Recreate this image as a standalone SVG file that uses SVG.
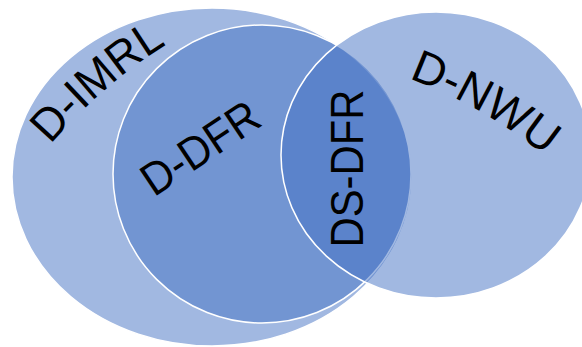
<svg xmlns="http://www.w3.org/2000/svg" width="582" height="347" viewBox="0 0 582 347">
<style>
.set{fill:#4472C4;fill-opacity:0.5;stroke:#FFFFFF;stroke-width:1.5}
.lbl{font-family:"Liberation Sans",Arial,sans-serif;font-size:46px;fill:#000000}
</style>
<defs>
<path id="arcIMRL" d="M31.9,167.7 A500,500 0 0 1 192.3,29.7"/>
<path id="arcNWU" d="M379.4,68.4 A500,500 0 0 1 569,175.6"/>
</defs>
<rect width="582" height="347" fill="#FFFFFF"/>
<g id="node-D-IMRL">
<ellipse class="set" cx="212" cy="177" rx="200" ry="169"/>
</g>
<g id="node-D-DFR">
<circle class="set" cx="262" cy="174" r="149"/>
</g>
<g id="node-D-NWU">
<ellipse class="set" cx="436" cy="155" rx="155" ry="143"/>
</g>
<g id="labels">
<text class="lbl" text-anchor="middle"><textPath href="#arcIMRL" startOffset="50%" textLength="154" lengthAdjust="spacingAndGlyphs">D-IMRL</textPath></text>
<text class="lbl" text-anchor="middle" transform="translate(209,161) rotate(-33.7)" textLength="132" lengthAdjust="spacingAndGlyphs">D-DFR</text>
<text class="lbl" text-anchor="middle" transform="translate(363,168.5) rotate(-90)" textLength="158" lengthAdjust="spacingAndGlyphs">DS-DFR</text>
<text class="lbl" text-anchor="middle"><textPath href="#arcNWU" startOffset="50%" textLength="158" lengthAdjust="spacingAndGlyphs">D-NWU</textPath></text>
</g>
<g id="connectors"></g>
</svg>
